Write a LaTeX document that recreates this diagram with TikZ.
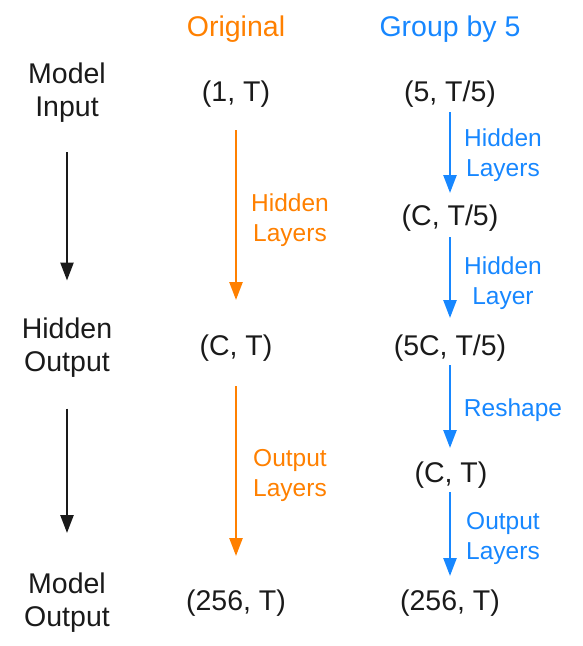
\documentclass[tikz,border=0pt]{standalone}
\usepackage{fontspec}
\setmainfont{Liberation Sans}
\usetikzlibrary{arrows.meta}
\definecolor{orig}{HTML}{FF8000}
\definecolor{grp}{HTML}{1787FF}
\definecolor{ink}{HTML}{1A1A1A}
\begin{document}
\begin{tikzpicture}[x=1pt,y=1pt,
  main/.style={font=\fontsize{28.5}{33}\selectfont, text=ink, align=center, inner sep=0pt},
  lbl/.style={font=\fontsize{24.5}{30}\selectfont, align=center, inner sep=0pt},
  flow/.style={line width=2.5pt, -{Triangle[length=18pt,width=13pt]}},
]
\useasboundingbox (0,0) rectangle (582,-646);
% headers
\node[lbl, font=\fontsize{28.5}{33}\selectfont, text=orig] (hO) at (236,-29) {Original};
\node[lbl, font=\fontsize{28.5}{33}\selectfont, text=grp] (hG) at (450,-29) {Group by 5};
% left column
\node[main] (mi) at (67,-92.5) {Model\\Input};
\node[main] (ho) at (67,-347.5) {Hidden\\Output};
\node[main] (mo) at (67,-602.5) {Model\\Output};
% middle column
\node[main] (o1) at (236,-94.5) {(1, T)};
\node[main] (o2) at (236,-348.5) {(C, T)};
\node[main] (o3) at (236,-603.5) {(256, T)};
% right column
\node[main] (g1) at (450,-94.5) {(5, T/5)};
\node[main] (g2) at (450,-218.5) {(C, T/5)};
\node[main] (g3) at (450,-348.5) {(5C, T/5)};
\node[main] (g4) at (451,-475.5) {(C, T)};
\node[main] (g5) at (450,-603.5) {(256, T)};
% black arrows
\draw[flow, ink, shorten <=59.5pt, shorten >=67pt] (mi.center) -- (ho.center);
\draw[flow, ink, shorten <=61pt, shorten >=69.5pt] (ho.center) -- (mo.center);
% orange arrows
\draw[flow, orig, shorten <=35.5pt, shorten >=48.5pt] (o1.center) -- (o2.center);
\draw[flow, orig, shorten <=37.5pt, shorten >=47.5pt] (o2.center) -- (o3.center);
\node[lbl, text=orig] (lo1) at (290,-220.5) {Hidden\\Layers};
\node[lbl, text=orig] (lo2) at (290,-475.5) {Output\\Layers};
% blue arrows
\draw[flow, grp, shorten <=17.5pt, shorten >=25.5pt] (g1.center) -- (g2.center);
\draw[flow, grp, shorten <=18.5pt, shorten >=30.5pt] (g2.center) -- (g3.center);
\draw[flow, grp, shorten <=16.5pt, shorten >=27.5pt] (g3.center) -- (g3.center |- g4.center);
\draw[flow, grp, shorten <=16.5pt, shorten >=27.5pt] (g3.center |- g4.center) -- (g5.center);
\node[lbl, text=grp] (lg1) at (503,-155.5) {Hidden\\Layers};
\node[lbl, text=grp] (lg2) at (503,-283.5) {Hidden\\Layer};
\node[lbl, text=grp] (lg3) at (513,-410.5) {Reshape};
\node[lbl, text=grp] (lg4) at (503,-538.5) {Output\\Layers};
\end{tikzpicture}
\end{document}
